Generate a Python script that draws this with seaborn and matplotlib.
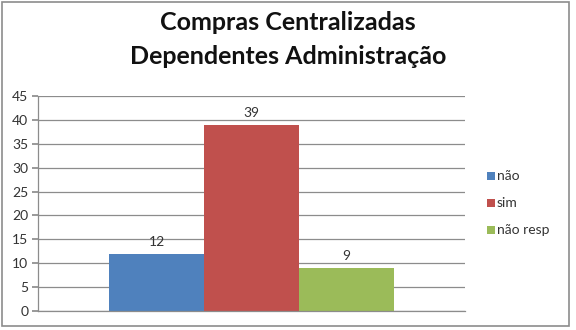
import matplotlib
matplotlib.use("Agg")
import matplotlib.pyplot as plt
import seaborn as sns
import pandas as pd
from matplotlib.patches import Rectangle

categories = ["não", "sim", "não resp"]
values = [12, 39, 9]
colors = ["#4F81BD", "#C0504D", "#9BBB59"]
yticks = [0, 5, 10, 15, 20, 25, 30, 35, 40, 45]

sns.set_theme(style="white")
plt.rcParams["font.family"] = ["Lato", "DejaVu Sans"]

df = pd.DataFrame({"cat": categories, "val": values})

fig = plt.figure(figsize=(5.76, 3.30), dpi=100)
ax = fig.add_axes([38/576, 1 - 311/330, (465-38)/576, (311-96)/330])

sns.barplot(data=df, x="cat", y="val", hue="cat", palette=colors, width=1.0,
            dodge=False, legend=False, ax=ax, saturation=1, linewidth=0,
            edgecolor="none")

ax.set_xlim(-1.25, 3.25)
ax.set_ylim(0, 45)
ax.set_yticks(yticks)
ax.set_yticklabels([str(t) for t in yticks], fontsize=10, color="#333333")
ax.set_xticks([])
ax.set_xlabel("")
ax.set_ylabel("")
ax.yaxis.grid(True, color="#8C8C8C", linewidth=0.9)
ax.set_axisbelow(True)
for s in ["top", "right"]:
    ax.spines[s].set_visible(False)
for s in ["left", "bottom"]:
    ax.spines[s].set_color("#8C8C8C")
    ax.spines[s].set_linewidth(0.9)
ax.tick_params(axis="y", length=4, color="#8C8C8C", pad=3, left=True)

for i, v in enumerate(values):
    ax.text(i, v + 1.2, str(v), ha="center", va="bottom", fontsize=10, color="#333333")

fig.text(0.5, 1 - 23/330, "Compras Centralizadas", ha="center", va="center",
         fontsize=18, fontweight="bold", color="#111111")
fig.text(0.5, 1 - 56/330, "Dependentes Administração", ha="center", va="center",
         fontsize=18, fontweight="bold", color="#111111")

legend_y = [176, 203, 230]
for c, lab, y in zip(colors, categories, legend_y):
    fig.patches.append(Rectangle((487/576, 1 - (y + 4)/330), 8/576, 8/330,
                                 transform=fig.transFigure, facecolor=c, edgecolor="none"))
    fig.text(497/576, 1 - y/330, lab, ha="left", va="center", fontsize=10, color="#333333")

fig.patches.append(Rectangle((1.5/576, 1 - 326/330), 567.5/576, 324/330,
                             transform=fig.transFigure, facecolor="none",
                             edgecolor="#8C8C8C", linewidth=1.2))

fig.savefig("out.png", dpi=100)
